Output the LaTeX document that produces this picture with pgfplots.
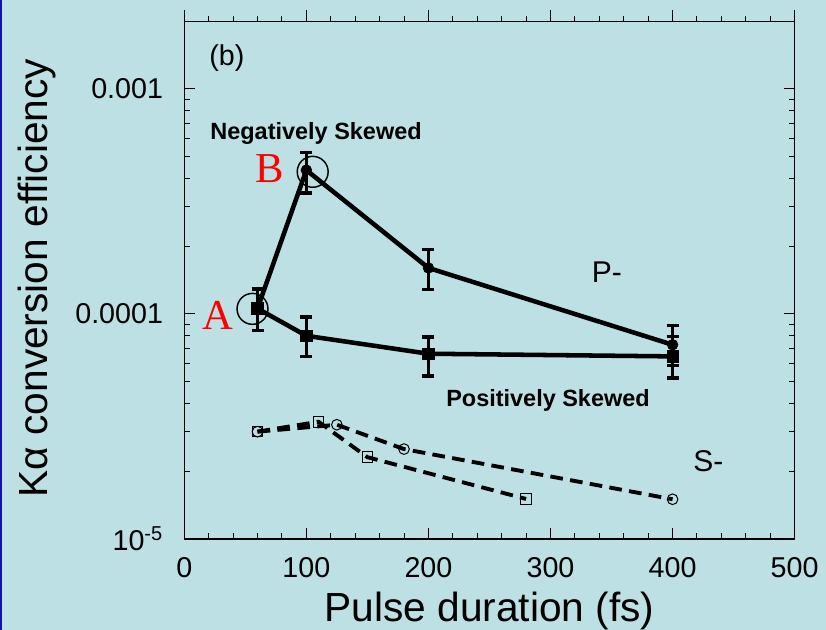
\documentclass[border=0pt]{standalone}
\usepackage{fontspec}
\setmainfont{Liberation Sans}
\newfontfamily\seriffont{Liberation Serif}
\usepackage{pgfplots}
\pgfplotsset{compat=1.18}

\definecolor{slidebg}{RGB}{188,224,227}
\definecolor{slideedge}{RGB}{20,20,170}

\newcommand{\ticksize}{\fontsize{21.5}{24}\selectfont}
\newcommand{\labelsize}{\fontsize{30.5}{34}\selectfont}
\newcommand{\notesize}{\fontsize{17.6}{20}\selectfont}
\newcommand{\tagsize}{\fontsize{22.5}{26}\selectfont}

\begin{document}
\begin{tikzpicture}
% slide background
\fill[slidebg] (-138.2pt,-68.25pt) rectangle (481.3pt,404.25pt);
\fill[slideedge] (-138.2pt,-68.25pt) rectangle (-136.7pt,404.25pt);

\begin{axis}[
  name=main,
  scale only axis, width=457.8pt, height=388.3pt,
  xmin=0, xmax=500, ymin=1e-5, ymax=2e-3, ymode=log,
  xtick={0,100,...,500}, minor x tick num=4,
  ytick={1e-5,1e-4,1e-3},
  yticklabels={10\textsuperscript{-5},0.0001,0.001},
  minor ytick={2e-5,3e-5,4e-5,5e-5,6e-5,7e-5,8e-5,9e-5,2e-4,3e-4,4e-4,5e-4,6e-4,7e-4,8e-4,9e-4},
  xtick pos=left, ytick pos=both, tick align=inside,
  major tick length=8.25pt, minor tick length=4.3pt,
  every tick/.style={black, line width=0.75pt},
  axis line style={line width=1.1pt},
  /pgf/number format/assume math mode=true,
  tick label style={font=\ticksize},
  xticklabel style={anchor=north, inner sep=0pt, yshift=-13.5pt},
  yticklabel style={anchor=east, inner sep=0pt, xshift=-15.75pt},
  xlabel={Pulse duration (fs)},
  ylabel={Kα conversion efficiency},
  xlabel style={font=\labelsize, at={(axis description cs:0.5,-0.1584)}, anchor=base, inner sep=0pt},
  ylabel style={font=\labelsize, at={(axis description cs:-0.2245,0.504)}, anchor=base, inner sep=0pt},
]

% S-polarised, two chirp directions
\addplot[black, line width=2.9pt, dash pattern=on 9.5pt off 5.5pt,
  mark=o, mark size=4pt, mark options={solid, line width=0.75pt}]
  coordinates {(60,3.0e-5) (125,3.22e-5) (180,2.51e-5) (400,1.502e-5)};
\addplot[black, line width=2.9pt, dash pattern=on 9.5pt off 5.5pt,
  mark=square, mark size=4pt, mark options={solid, line width=0.75pt}]
  coordinates {(60,3.0e-5) (110,3.32e-5) (150,2.31e-5) (280,1.507e-5)};

% P-polarised, negatively skewed
\addplot[black, line width=3.4pt, mark=*, mark size=4pt,
  mark options={solid, line width=0.5pt},
  error bars/.cd, y dir=both, y explicit,
  error bar style={line width=2.5pt, solid},
  error mark options={rotate=90, mark size=4.5pt, line width=2.5pt}]
  coordinates {
    (60,1.058e-4) += (0,0.234e-4) -= (0,0.213e-4)
    (100,4.36e-4) += (0,0.85e-4) -= (0,0.905e-4)
    (200,1.602e-4) += (0,0.331e-4) -= (0,0.319e-4)
    (400,7.30e-5) += (0,1.57e-5) -= (0,1.41e-5)
  };

% P-polarised, positively skewed
\addplot[black, line width=3.4pt, mark=square*, mark size=4.3pt,
  mark options={solid, line width=0.5pt},
  error bars/.cd, y dir=both, y explicit,
  error bar style={line width=2.5pt, solid},
  error mark options={rotate=90, mark size=4.5pt, line width=2.5pt}]
  coordinates {
    (60,1.058e-4) += (0,0.234e-4) -= (0,0.213e-4)
    (100,8.0e-5) += (0,1.70e-5) -= (0,1.52e-5)
    (200,6.66e-5) += (0,1.24e-5) -= (0,1.35e-5)
    (400,6.48e-5) += (0,1.45e-5) -= (0,1.29e-5)
  };

% rings around the highlighted points
\addplot[black, only marks, mark=o, mark size=11.6pt, mark options={line width=1.1pt}]
  coordinates {(55.9,1.054e-4) (105.2,4.285e-4)};

\node[font=\fontsize{21.5}{25}\selectfont, anchor=base west, inner sep=0pt] at (axis cs:20.4,1.267e-3) {(b)};
\node[font=\notesize\bfseries, anchor=base west, inner sep=0pt] at (axis cs:21.2,5.965e-4) {Negatively Skewed};
\node[font=\notesize\bfseries, anchor=base west, inner sep=0pt] at (axis cs:214.4,3.87e-5) {Positively Skewed};
\node[font=\tagsize, anchor=base west, inner sep=0pt] at (axis cs:333.7,1.374e-4) {P-};
\node[font=\tagsize, anchor=base west, inner sep=0pt] at (axis cs:416.9,1.993e-5) {S-};
\node[font=\seriffont\fontsize{32}{36}\selectfont, text=red, anchor=base, inner sep=0pt] at (axis cs:27.4,8.51e-5) {A};
\node[font=\seriffont\fontsize{32}{36}\selectfont, text=red, anchor=base, inner sep=0pt] at (axis cs:70.2,3.84e-4) {B};
\end{axis}

% top axis with outward ticks
\begin{axis}[
  scale only axis, width=457.8pt, height=388.3pt,
  xmin=0, xmax=500, ymin=1e-5, ymax=2e-3, ymode=log,
  hide y axis, axis x line*=top,
  x axis line style={-, line width=1.1pt},
  xtick={0,100,...,500}, minor x tick num=4, xticklabels={},
  tick align=outside,
  major tick length=8.25pt, minor tick length=4.3pt,
  every tick/.style={black, line width=0.75pt},
]
\end{axis}

\draw[line width=1.1pt] (main.north west) -- ++(0,8.5pt);
\draw[line width=1.1pt] (main.north east) -- ++(0,8.5pt);

\pgfresetboundingbox
\path (-138.2pt,-68.25pt) rectangle (481.3pt,404.25pt);
\end{tikzpicture}
\end{document}
